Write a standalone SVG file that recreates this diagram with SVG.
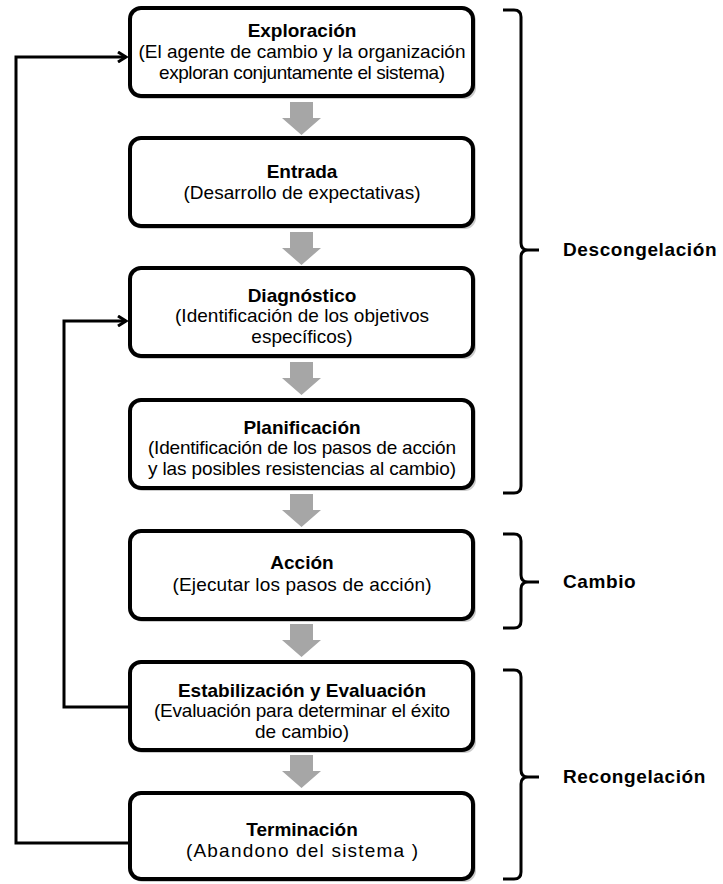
<svg xmlns="http://www.w3.org/2000/svg" width="723" height="884" viewBox="0 0 723 884">
<defs>
<style>
.box{fill:#fff;stroke:#000;stroke-width:4}
.sh{fill:#9a9a9a;opacity:0.5}
.t{font-family:"Liberation Sans",Arial,sans-serif;font-size:19px;text-anchor:middle;fill:#000}
.b{font-weight:bold}
.lab{font-family:"Liberation Sans",Arial,sans-serif;font-size:19px;font-weight:bold;letter-spacing:0.6px;fill:#000}
.ga{fill:#a6a6a6}
.br{fill:none;stroke:#000;stroke-width:3;stroke-linejoin:round}
.ln{fill:none;stroke:#000;stroke-width:3}
</style>
<marker id="ah" markerWidth="12" markerHeight="12" refX="10" refY="6" orient="auto" markerUnits="userSpaceOnUse">
<path d="M2,1 L10,6 L2,11" fill="none" stroke="#000" stroke-width="3"/>
</marker>
<path id="garrow" d="M-12,0 h23 v16 h8 l-19.5,17 l-19.5,-17 h8 z"/>
</defs>

<g id="connectors">
<use href="#garrow" class="ga" x="302" y="102"/>
<use href="#garrow" class="ga" x="302" y="232"/>
<use href="#garrow" class="ga" x="302" y="362"/>
<use href="#garrow" class="ga" x="302" y="494"/>
<use href="#garrow" class="ga" x="302" y="624"/>
<use href="#garrow" class="ga" x="302" y="755"/>
<path class="ln" d="M128,843 H16 V57 H126" marker-end="url(#ah)"/>
<path class="ln" d="M128,707 H64 V321 H126" marker-end="url(#ah)"/>
</g>

<g id="exploracion">
<rect class="sh" x="132" y="10" width="344" height="89" rx="11"/>
<rect class="box" x="130" y="8" width="343" height="88" rx="11"/>
<text class="t b" x="302" y="37">Exploración</text>
<text class="t" x="302" y="58" textLength="327" lengthAdjust="spacing">(El agente de cambio y la organización</text>
<text class="t" x="302" y="79" textLength="286" lengthAdjust="spacing">exploran conjuntamente el sistema)</text>
</g>

<g id="entrada">
<rect class="sh" x="132" y="140" width="344" height="89" rx="11"/>
<rect class="box" x="130" y="138" width="343" height="88" rx="11"/>
<text class="t b" x="302" y="178">Entrada</text>
<text class="t" x="302" y="199" textLength="237" lengthAdjust="spacing">(Desarrollo de expectativas)</text>
</g>

<g id="diagnostico">
<rect class="sh" x="132" y="270" width="344" height="89" rx="11"/>
<rect class="box" x="130" y="268" width="343" height="88" rx="11"/>
<text class="t b" x="302" y="302">Diagnóstico</text>
<text class="t" x="302" y="322" textLength="254" lengthAdjust="spacing">(Identificación de los objetivos</text>
<text class="t" x="302" y="343">específicos)</text>
</g>

<g id="planificacion">
<rect class="sh" x="132" y="402" width="344" height="89" rx="11"/>
<rect class="box" x="130" y="400" width="343" height="88" rx="11"/>
<text class="t b" x="302" y="434">Planificación</text>
<text class="t" x="302" y="454" textLength="308" lengthAdjust="spacing">(Identificación de los pasos de acción</text>
<text class="t" x="302" y="475" textLength="308" lengthAdjust="spacing">y las posibles resistencias al cambio)</text>
</g>

<g id="accion">
<rect class="sh" x="132" y="533" width="344" height="89" rx="11"/>
<rect class="box" x="130" y="531" width="343" height="88" rx="11"/>
<text class="t b" x="302" y="569">Acción</text>
<text class="t" x="302" y="591" textLength="259" lengthAdjust="spacing">(Ejecutar los pasos de acción)</text>
</g>

<g id="estabilizacion">
<rect class="sh" x="132" y="664" width="344" height="89" rx="11"/>
<rect class="box" x="130" y="662" width="343" height="88" rx="11"/>
<text class="t b" x="302" y="697">Estabilización y Evaluación</text>
<text class="t" x="302" y="717" textLength="296" lengthAdjust="spacing">(Evaluación para determinar el éxito</text>
<text class="t" x="302" y="738">de cambio)</text>
</g>

<g id="terminacion">
<rect class="sh" x="132" y="795" width="344" height="87" rx="11"/>
<rect class="box" x="130" y="793" width="343" height="86" rx="11"/>
<text class="t b" x="302" y="836">Terminación</text>
<text class="t" x="302" y="857" textLength="232" lengthAdjust="spacing">(Abandono del sistema )</text>
</g>

<g id="descongelacion">
<path class="br" d="M503,10 H514 Q521,10 521,17 V243 Q521,250 528,250 H539 M528,250 Q521,250 521,257 V486 Q521,493 514,493 H503"/>
<text class="lab" x="563" y="256">Descongelación</text>
</g>

<g id="cambio">
<path class="br" d="M503,534 H514 Q521,534 521,541 V575 Q521,582 528,582 H539 M528,582 Q521,582 521,589 V621 Q521,628 514,628 H503"/>
<text class="lab" x="563" y="588">Cambio</text>
</g>

<g id="recongelacion">
<path class="br" d="M503,670 H514 Q521,670 521,677 V770 Q521,777 528,777 H539 M528,777 Q521,777 521,784 V872 Q521,879 514,879 H503"/>
<text class="lab" x="563" y="783">Recongelación</text>
</g>
</svg>
